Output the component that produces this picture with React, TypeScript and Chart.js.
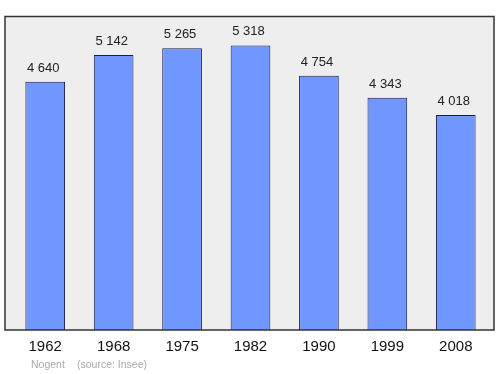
import React, { useEffect, useRef } from "react";
import { Chart, registerables } from "chart.js";

Chart.register(...registerables);

const years = ["1962", "1968", "1975", "1982", "1990", "1999", "2008"];
const population = [4640, 5142, 5265, 5318, 4754, 4343, 4018];
const townName = "Nogent";
const sourceText = "(source: Insee)";

const FONT = "'Liberation Sans', Arial, sans-serif";

const fmt = (v: number) => String(v).replace(/\B(?=(\d{3})+(?!\d))/g, " ");

export default function App() {
  const ref = useRef<HTMLCanvasElement | null>(null);

  useEffect(() => {
    document.body.style.margin = "0";
    const canvas = ref.current;
    if (!canvas) return;

    const framePlugin = {
      id: "frame",
      beforeDatasetsDraw(chart: any) {
        const { ctx } = chart;
        const area = chart.chartArea;
        ctx.save();
        ctx.fillStyle = "#eeeeee";
        ctx.fillRect(5, area.top, 489, area.bottom - area.top);
        ctx.restore();
      },
      afterDatasetsDraw(chart: any) {
        const { ctx } = chart;
        const area = chart.chartArea;
        ctx.save();
        ctx.strokeStyle = "#333333";
        ctx.lineWidth = 1.5;
        ctx.strokeRect(5, area.top, 489, area.bottom - area.top);
        // value labels
        const meta = chart.getDatasetMeta(0);
        ctx.fillStyle = "#222222";
        ctx.font = `13px ${FONT}`;
        ctx.textAlign = "center";
        ctx.textBaseline = "alphabetic";
        meta.data.forEach((bar: any, i: number) => {
          ctx.fillText(fmt(population[i]), bar.x - 2, bar.y - 10);
        });
        // source
        ctx.fillStyle = "#aaaaaa";
        ctx.font = `10.5px ${FONT}`;
        ctx.textAlign = "left";
        ctx.fillText(townName, 31, 368);
        ctx.fillText(sourceText, 77, 368);
        ctx.restore();
      },
    };

    const chart = new Chart(canvas, {
      type: "bar",
      data: {
        labels: years,
        datasets: [
          {
            data: population,
            backgroundColor: "#7096ff",
            borderColor: "#1c1c4a",
            borderWidth: 1,
            barPercentage: 0.58,
            categoryPercentage: 1,
          },
        ],
      },
      options: {
        responsive: false,
        animation: false,
        layout: { padding: { left: 11, right: 10, top: 16.5, bottom: 0 } },
        plugins: {
          legend: { display: false },
          tooltip: { enabled: false },
          title: { display: false },
        },
        scales: {
          x: {
            grid: { display: false, drawTicks: false },
            border: { display: false },
            ticks: {
              color: "#111111",
              font: { family: FONT, size: 15 },
              padding: 8,
              maxRotation: 0,
            },
            afterFit: (scale: any) => {
              scale.height = 44;
            },
          },
          y: {
            display: false,
            min: 0,
            max: 5860,
          },
        },
      },
      plugins: [framePlugin],
    });

    return () => chart.destroy();
  }, []);

  return (
    <div style={{ width: 500, height: 374 }}>
      <canvas ref={ref} width={500} height={374} />
    </div>
  );
}
